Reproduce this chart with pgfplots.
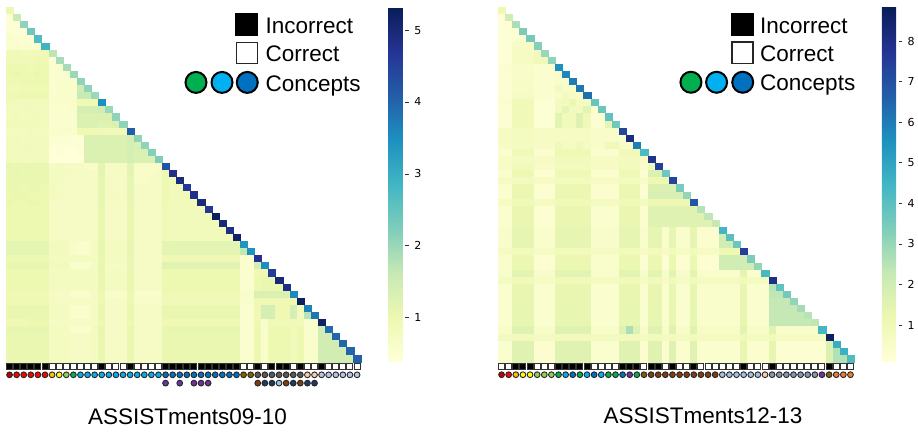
\documentclass[border=0pt]{standalone}
\usepackage{pgfplots}
\pgfplotsset{compat=1.18}
\usepackage{fontspec}
\setmainfont{Liberation Sans}
\newfontfamily\dvs{DejaVu Sans}
\definecolor{cDR}{HTML}{C00000}\definecolor{cR}{HTML}{FF0000}\definecolor{cO}{HTML}{FFC000}\definecolor{cY}{HTML}{FFFF00}
\definecolor{cLG}{HTML}{92D050}\definecolor{cG}{HTML}{00B050}\definecolor{cLB}{HTML}{00B0F0}\definecolor{cB}{HTML}{0070C0}
\definecolor{cP}{HTML}{7030A0}\definecolor{cOl}{HTML}{7F6000}\definecolor{cGr}{HTML}{595959}\definecolor{cPe}{HTML}{F8CBAD}
\definecolor{cIce}{HTML}{B4C7E7}\definecolor{cBr}{HTML}{843C0C}\definecolor{cNv}{HTML}{1F3864}\definecolor{cSk}{HTML}{9DC3E6}
\definecolor{cSl}{HTML}{8497B0}\definecolor{cOr}{HTML}{ED7D31}
\tikzset{lab/.style={anchor=base west,inner sep=0pt,font=\fontsize{22.5}{26}\selectfont}}
\pgfplotsset{colormap={ygb}{rgb255=(255,255,217) rgb255=(237,248,177) rgb255=(199,233,180) rgb255=(127,205,187) rgb255=(65,182,196) rgb255=(29,145,192) rgb255=(34,94,168) rgb255=(37,52,148) rgb255=(8,29,88)},
 hm/.style={scatter,only marks,mark=square*,mark size=3.56pt,point meta=explicit,scatter/use mapped color={draw=mapped color,fill=mapped color},line width=0.05pt},
 sq/.style={only marks,mark=square*,mark size=3pt,line width=1pt,draw=black!80},
 cc/.style={only marks,mark=*,mark size=2.9pt,line width=0.9pt,draw=black!85},
 lgsq/.style={only marks,mark=square*,mark size=11pt,line width=0.6pt},
 lgc/.style={only marks,mark=*,mark size=10.5pt,line width=2pt,draw=black},
 hmax/.style={anchor=south west,scale only axis,xmin=-0.5,xmax=49.5,ymin=-0.5,ymax=49.5,y dir=reverse,axis lines=none,clip=false,colormap name=ygb,colorbar,
   colorbar style={at={(parent axis.south east)},anchor=south west,xshift=19.4pt,width=16.7pt,y dir=normal,tickwidth=3.5pt,ytick pos=right,yticklabel pos=right,tick align=outside,major tick style={draw=black!80,line width=0.6pt},
   axis line style={draw=none},yticklabel style={font=\dvs\fontsize{11}{12}\selectfont,xshift=2pt},/pgf/number format/assume math mode=true}}}
\newcommand\hmrow[2]{\addplot[hm] table[header=false,row sep=crcr,x expr=\coordindex,y expr=#1,meta index=0]{#2};}
\begin{document}
\begin{tikzpicture}[x=1pt,y=1pt]
\useasboundingbox (0,0) rectangle (918,431);
\begin{axis}[hmax,at={(6pt,69.3pt)},width=354.6pt,height=354.6pt,point meta min=0.387,point meta max=5.32,colorbar style={height=354.6pt,ytick={1,2,3,4,5}}]
\hmrow{0}{1.0\\}
\hmrow{1}{0.45\\1.6\\}
\hmrow{2}{0.45\\0.45\\2.1\\}
\hmrow{3}{0.5\\0.45\\0.45\\2.4\\}
\hmrow{4}{0.6\\0.55\\0.5\\0.5\\2.7\\}
\hmrow{5}{0.55\\0.6\\0.55\\0.55\\0.55\\2.9\\}
\hmrow{6}{0.9\\0.9\\0.85\\0.85\\0.9\\0.9\\1.7\\}
\hmrow{7}{0.9\\0.9\\0.9\\0.9\\0.95\\0.95\\0.5\\1.9\\}
\hmrow{8}{1.0\\1.0\\1.0\\0.95\\1.0\\1.0\\0.55\\0.55\\1.9\\}
\hmrow{9}{1.0\\1.05\\1.0\\1.0\\1.05\\1.0\\0.55\\0.55\\0.6\\2.0\\}
\hmrow{10}{0.95\\0.95\\1.0\\1.0\\1.0\\1.0\\0.55\\0.6\\0.6\\0.6\\2.1\\}
\hmrow{11}{0.9\\0.9\\0.95\\0.95\\0.95\\0.95\\0.55\\0.6\\0.6\\0.6\\1.5\\2.1\\}
\hmrow{12}{0.95\\0.95\\1.0\\1.0\\1.0\\1.0\\0.55\\0.6\\0.6\\0.6\\1.6\\1.6\\2.0\\}
\hmrow{13}{0.85\\0.85\\0.8\\0.85\\0.85\\0.85\\0.6\\0.6\\0.6\\0.65\\0.95\\0.95\\0.95\\3.5\\}
\hmrow{14}{0.8\\0.8\\0.85\\0.85\\0.8\\0.8\\0.55\\0.55\\0.55\\0.6\\1.4\\1.4\\1.4\\1.5\\2.0\\}
\hmrow{15}{0.8\\0.85\\0.8\\0.8\\0.85\\0.8\\0.55\\0.55\\0.55\\0.55\\1.3\\1.3\\1.3\\1.3\\1.3\\2.1\\}
\hmrow{16}{0.85\\0.85\\0.85\\0.85\\0.85\\0.8\\0.55\\0.55\\0.55\\0.55\\1.3\\1.3\\1.3\\1.2\\1.25\\1.3\\2.1\\}
\hmrow{17}{0.75\\0.75\\0.75\\0.8\\0.75\\0.75\\0.6\\0.6\\0.6\\0.6\\0.95\\0.95\\0.95\\0.9\\0.9\\0.85\\0.85\\4.1\\}
\hmrow{18}{0.8\\0.85\\0.8\\0.8\\0.8\\0.8\\0.5\\0.5\\0.5\\0.45\\0.45\\1.3\\1.3\\1.3\\1.3\\1.3\\1.3\\1.4\\2.1\\}
\hmrow{19}{0.85\\0.8\\0.8\\0.85\\0.8\\0.8\\0.45\\0.45\\0.45\\0.45\\0.45\\1.3\\1.3\\1.3\\1.3\\1.3\\1.3\\1.4\\1.35\\2.1\\}
\hmrow{20}{0.8\\0.8\\0.85\\0.8\\0.8\\0.85\\0.4\\0.45\\0.4\\0.4\\0.45\\1.3\\1.3\\1.3\\1.3\\1.3\\1.3\\1.4\\1.3\\1.35\\2.2\\}
\hmrow{21}{0.85\\0.8\\0.8\\0.8\\0.85\\0.8\\0.4\\0.4\\0.4\\0.4\\0.4\\1.3\\1.3\\1.3\\1.3\\1.3\\1.3\\1.4\\1.3\\1.3\\1.3\\2.25\\}
\hmrow{22}{1.1\\1.05\\1.05\\1.1\\1.05\\1.05\\0.7\\0.75\\0.7\\0.7\\0.7\\0.65\\0.65\\1.15\\0.7\\0.7\\0.7\\1.15\\0.65\\0.65\\0.65\\0.65\\4.25\\}
\hmrow{23}{1.05\\1.1\\1.05\\1.05\\1.05\\1.05\\0.75\\0.75\\0.75\\0.7\\0.7\\0.7\\0.7\\1.15\\0.7\\0.7\\0.7\\1.15\\0.65\\0.65\\0.65\\0.7\\1.0\\4.8\\}
\hmrow{24}{1.05\\1.05\\1.05\\1.05\\1.05\\1.05\\0.75\\0.75\\0.7\\0.7\\0.7\\0.7\\0.7\\1.1\\0.75\\0.7\\0.7\\1.1\\0.65\\0.65\\0.7\\0.7\\1.0\\0.9\\4.95\\}
\hmrow{25}{1.05\\1.05\\1.0\\1.05\\1.05\\1.0\\0.75\\0.7\\0.7\\0.7\\0.7\\0.7\\0.7\\1.1\\0.75\\0.7\\0.7\\1.1\\0.7\\0.7\\0.7\\0.7\\1.0\\0.85\\0.85\\4.65\\}
\hmrow{26}{1.0\\1.05\\1.05\\1.0\\1.0\\1.0\\0.75\\0.75\\0.7\\0.7\\0.7\\0.7\\0.7\\1.1\\0.75\\0.75\\0.7\\1.1\\0.7\\0.7\\0.7\\0.7\\0.95\\0.85\\0.85\\0.85\\4.8\\}
\hmrow{27}{1.05\\1.0\\1.0\\1.05\\1.05\\1.0\\0.7\\0.7\\0.7\\0.7\\0.7\\0.7\\0.7\\1.1\\0.7\\0.7\\0.7\\1.1\\0.7\\0.7\\0.7\\0.7\\0.95\\0.85\\0.85\\0.85\\0.85\\4.95\\}
\hmrow{28}{1.0\\1.0\\1.0\\1.0\\1.0\\1.0\\0.7\\0.7\\0.7\\0.7\\0.7\\0.7\\0.7\\1.05\\0.7\\0.7\\0.7\\1.05\\0.7\\0.7\\0.7\\0.7\\0.9\\0.85\\0.85\\0.85\\0.85\\0.85\\4.65\\}
\hmrow{29}{1.0\\1.0\\1.0\\1.0\\1.0\\1.0\\0.7\\0.7\\0.7\\0.7\\0.7\\0.7\\0.7\\1.05\\0.7\\0.7\\0.7\\1.05\\0.7\\0.7\\0.7\\0.7\\0.9\\0.85\\0.85\\0.85\\0.85\\0.85\\0.85\\5.25\\}
\hmrow{30}{1.0\\1.0\\1.0\\1.0\\1.0\\1.0\\0.7\\0.7\\0.7\\0.7\\0.7\\0.7\\0.7\\1.05\\0.7\\0.7\\0.7\\1.05\\0.7\\0.7\\0.7\\0.7\\0.9\\0.85\\0.85\\0.85\\0.85\\0.85\\0.85\\0.85\\5.0\\}
\hmrow{31}{1.0\\1.0\\1.0\\1.0\\1.0\\1.0\\0.7\\0.7\\0.7\\0.7\\0.7\\0.7\\0.7\\1.05\\0.7\\0.7\\0.7\\1.05\\0.7\\0.7\\0.7\\0.7\\0.9\\0.85\\0.85\\0.85\\0.85\\0.85\\0.85\\0.85\\0.85\\4.85\\}
\hmrow{32}{1.0\\1.0\\1.0\\1.0\\1.0\\1.0\\0.7\\0.7\\0.7\\0.7\\0.7\\0.7\\0.7\\1.05\\0.7\\0.7\\0.7\\1.05\\0.7\\0.7\\0.7\\0.7\\0.9\\0.85\\0.85\\0.85\\0.85\\0.85\\0.85\\0.85\\0.85\\0.85\\5.15\\}
\hmrow{33}{1.15\\1.15\\1.15\\1.15\\1.15\\1.15\\0.8\\0.8\\0.8\\0.65\\0.6\\0.6\\0.75\\1.1\\0.75\\0.75\\0.75\\1.1\\0.7\\0.7\\0.7\\0.7\\1.15\\1.15\\1.15\\1.15\\1.15\\1.15\\1.15\\1.15\\1.15\\1.15\\1.15\\3.4\\}
\hmrow{34}{1.15\\1.15\\1.15\\1.15\\1.15\\1.15\\0.8\\0.8\\0.8\\0.65\\0.6\\0.6\\0.75\\1.1\\0.75\\0.75\\0.75\\1.1\\0.7\\0.7\\0.7\\0.7\\1.15\\1.15\\1.15\\1.15\\1.15\\1.15\\1.15\\1.15\\1.15\\1.15\\1.15\\1.65\\3.45\\}
\hmrow{35}{1.0\\1.0\\1.0\\1.0\\1.0\\1.0\\0.75\\0.75\\0.75\\0.75\\0.75\\0.75\\0.75\\1.05\\0.75\\0.75\\0.75\\1.05\\0.7\\0.7\\0.7\\0.7\\0.95\\0.95\\0.95\\0.95\\0.95\\0.95\\0.95\\0.95\\0.95\\0.95\\0.95\\0.55\\0.55\\4.75\\}
\hmrow{36}{1.1\\1.1\\1.1\\1.1\\1.1\\1.1\\0.8\\0.8\\0.8\\0.6\\0.6\\0.6\\0.7\\1.1\\0.7\\0.7\\0.7\\1.1\\0.7\\0.7\\0.7\\0.7\\1.2\\1.2\\1.2\\1.2\\1.2\\1.2\\1.2\\1.2\\1.2\\1.2\\1.2\\0.55\\0.55\\1.4\\3.5\\}
\hmrow{37}{1.0\\1.0\\1.0\\1.0\\1.0\\1.0\\0.75\\0.75\\0.75\\0.75\\0.75\\0.75\\0.75\\1.05\\0.75\\0.75\\0.75\\1.05\\0.7\\0.7\\0.7\\0.7\\1.0\\1.0\\1.0\\1.0\\1.0\\1.0\\1.0\\1.0\\1.0\\1.0\\1.0\\0.55\\0.55\\0.95\\0.95\\4.6\\}
\hmrow{38}{1.0\\1.0\\1.0\\1.0\\1.0\\1.0\\0.75\\0.75\\0.75\\0.75\\0.75\\0.75\\0.75\\1.05\\0.75\\0.75\\0.75\\1.05\\0.7\\0.7\\0.7\\0.7\\1.0\\1.0\\1.0\\1.0\\1.0\\1.0\\1.0\\1.0\\1.0\\1.0\\1.0\\0.55\\0.55\\1.0\\1.05\\1.05\\5.0\\}
\hmrow{39}{1.0\\1.0\\1.0\\1.0\\1.0\\1.0\\0.75\\0.75\\0.75\\0.75\\0.75\\0.75\\0.75\\1.05\\0.75\\0.75\\0.75\\1.05\\0.7\\0.7\\0.7\\0.7\\1.0\\1.0\\1.0\\1.0\\1.0\\1.0\\1.0\\1.0\\1.0\\1.0\\1.0\\0.55\\0.55\\1.0\\1.05\\1.05\\1.05\\4.85\\}
\hmrow{40}{0.95\\0.95\\0.95\\0.95\\0.95\\0.95\\0.7\\0.7\\0.7\\0.6\\0.6\\0.6\\0.7\\1.0\\0.65\\0.65\\0.65\\1.0\\0.6\\0.6\\0.6\\0.6\\0.95\\0.95\\0.95\\0.95\\0.95\\0.95\\0.95\\0.95\\0.95\\0.95\\0.95\\0.6\\0.6\\1.3\\1.3\\1.3\\1.3\\1.3\\3.55\\}
\hmrow{41}{0.95\\0.95\\0.95\\0.95\\0.95\\0.95\\0.75\\0.7\\0.7\\0.7\\0.7\\0.7\\0.7\\1.0\\0.7\\0.7\\0.7\\1.0\\0.65\\0.65\\0.65\\0.65\\0.9\\0.9\\0.9\\0.9\\0.9\\0.9\\0.9\\0.9\\0.9\\0.9\\0.9\\0.6\\0.6\\0.95\\0.95\\0.95\\0.95\\0.95\\0.95\\5.25\\}
\hmrow{42}{1.05\\1.05\\1.05\\1.05\\1.05\\1.05\\0.75\\0.75\\0.75\\0.6\\0.6\\0.6\\0.75\\1.05\\0.7\\0.7\\0.7\\1.05\\0.7\\0.7\\0.7\\0.7\\1.05\\1.05\\1.05\\1.05\\1.05\\1.05\\1.05\\1.05\\1.05\\1.05\\1.05\\0.55\\0.55\\0.95\\1.4\\1.4\\0.95\\0.95\\1.4\\0.8\\3.65\\}
\hmrow{43}{1.05\\1.05\\1.05\\1.05\\1.05\\1.05\\0.75\\0.75\\0.75\\0.6\\0.6\\0.6\\0.75\\1.05\\0.7\\0.7\\0.7\\1.05\\0.7\\0.7\\0.7\\0.7\\1.05\\1.05\\1.05\\1.05\\1.05\\1.05\\1.05\\1.05\\1.05\\1.05\\1.05\\0.55\\0.55\\0.95\\1.4\\1.4\\0.95\\0.95\\1.4\\0.8\\1.75\\3.8\\}
\hmrow{44}{0.95\\0.95\\0.95\\1.0\\1.0\\1.0\\0.7\\0.7\\0.7\\0.7\\0.7\\0.7\\0.7\\1.0\\0.7\\0.7\\0.7\\1.0\\0.7\\0.7\\0.7\\0.7\\0.95\\0.95\\0.95\\0.95\\0.95\\0.95\\0.95\\0.95\\0.95\\0.95\\0.95\\0.55\\0.55\\0.95\\0.6\\0.9\\0.9\\0.9\\0.9\\0.85\\0.6\\0.6\\5.2\\}
\hmrow{45}{1.1\\1.1\\1.1\\1.1\\1.1\\1.1\\0.75\\0.75\\0.75\\0.6\\0.6\\0.6\\0.75\\1.1\\0.7\\0.7\\0.7\\1.1\\0.7\\0.7\\0.7\\0.7\\1.1\\1.1\\1.1\\1.1\\1.1\\1.1\\1.1\\1.1\\1.1\\1.1\\1.1\\0.55\\0.55\\1.0\\0.6\\1.0\\1.0\\1.0\\0.85\\1.0\\0.6\\0.6\\1.45\\3.9\\}
\hmrow{46}{1.05\\1.05\\1.05\\1.05\\1.05\\1.05\\0.75\\0.75\\0.75\\0.7\\0.7\\0.7\\0.75\\1.05\\0.7\\0.7\\0.7\\1.05\\0.7\\0.7\\0.7\\0.7\\1.05\\1.05\\1.05\\1.05\\1.05\\1.05\\1.05\\1.05\\1.05\\1.05\\1.05\\0.55\\0.55\\1.0\\0.6\\1.0\\1.0\\1.0\\0.85\\1.0\\0.6\\0.6\\1.45\\1.45\\4.0\\}
\hmrow{47}{1.05\\1.05\\1.05\\1.05\\1.05\\1.05\\0.75\\0.75\\0.75\\0.7\\0.7\\0.7\\0.75\\1.05\\0.7\\0.7\\0.7\\1.05\\0.7\\0.7\\0.7\\0.7\\1.05\\1.05\\1.05\\1.05\\1.05\\1.05\\1.05\\1.05\\1.05\\1.05\\1.05\\0.55\\0.55\\1.0\\0.6\\1.0\\1.0\\1.0\\0.85\\1.0\\0.6\\0.6\\1.45\\1.45\\1.45\\4.0\\}
\hmrow{48}{1.05\\1.05\\1.05\\1.05\\1.05\\1.05\\0.75\\0.75\\0.75\\0.7\\0.7\\0.7\\0.75\\1.05\\0.7\\0.7\\0.7\\1.05\\0.7\\0.7\\0.7\\0.7\\1.05\\1.05\\1.05\\1.05\\1.05\\1.05\\1.05\\1.05\\1.05\\1.05\\1.05\\0.55\\0.55\\1.0\\0.6\\1.0\\1.0\\1.0\\0.85\\1.0\\0.6\\0.6\\1.45\\1.45\\1.45\\1.45\\4.0\\}
\hmrow{49}{1.05\\1.05\\1.05\\1.05\\1.05\\1.05\\0.75\\0.75\\0.75\\0.7\\0.7\\0.7\\0.75\\1.05\\0.7\\0.7\\0.7\\1.05\\0.7\\0.7\\0.7\\0.7\\1.05\\1.05\\1.05\\1.05\\1.05\\1.05\\1.05\\1.05\\1.05\\1.05\\1.05\\0.55\\0.55\\1.0\\0.6\\1.0\\1.0\\1.0\\0.85\\1.0\\0.6\\0.6\\1.45\\1.45\\1.45\\1.45\\1.45\\4.05\\}
\addplot[sq,fill=black] coordinates {(0,50.19)(1,50.19)(2,50.19)(3,50.19)(4,50.19)(5,50.19)(13,50.19)(17,50.19)(22,50.19)(23,50.19)(24,50.19)(25,50.19)(26,50.19)(27,50.19)(28,50.19)(29,50.19)(30,50.19)(31,50.19)(32,50.19)(35,50.19)(37,50.19)(38,50.19)(39,50.19)(41,50.19)(44,50.19)};
\addplot[sq,fill=white] coordinates {(6,50.19)(7,50.19)(8,50.19)(9,50.19)(10,50.19)(11,50.19)(12,50.19)(14,50.19)(15,50.19)(16,50.19)(18,50.19)(19,50.19)(20,50.19)(21,50.19)(33,50.19)(34,50.19)(36,50.19)(40,50.19)(42,50.19)(43,50.19)(45,50.19)(46,50.19)(47,50.19)(48,50.19)(49,50.19)};
\addplot[cc,fill=cDR] coordinates {(0,51.35)};
\addplot[cc,fill=cR] coordinates {(1,51.35)(2,51.35)(3,51.35)(4,51.35)(5,51.35)};
\addplot[cc,fill=cO] coordinates {(6,51.35)};
\addplot[cc,fill=cY] coordinates {(7,51.35)};
\addplot[cc,fill=cLG] coordinates {(8,51.35)};
\addplot[cc,fill=cG] coordinates {(9,51.35)};
\addplot[cc,fill=cLB] coordinates {(10,51.35)(11,51.35)(12,51.35)(13,51.35)(14,51.35)(15,51.35)(16,51.35)(17,51.35)(18,51.35)(19,51.35)(20,51.35)(21,51.35)};
\addplot[cc,fill=cB] coordinates {(22,51.35)(23,51.35)(24,51.35)(25,51.35)(26,51.35)(27,51.35)(28,51.35)(29,51.35)(30,51.35)(31,51.35)(32,51.35)};
\addplot[cc,fill=cOl] coordinates {(33,51.35)(34,51.35)};
\addplot[cc,fill=cGr] coordinates {(35,51.35)(36,51.35)(37,51.35)(38,51.35)(39,51.35)(40,51.35)(41,51.35)};
\addplot[cc,fill=cPe] coordinates {(42,51.35)(43,51.35)};
\addplot[cc,fill=cIce] coordinates {(44,51.35)(45,51.35)(46,51.35)(47,51.35)(48,51.35)(49,51.35)};
\addplot[cc,fill=cP] coordinates {(22,52.52)(24,52.52)(26,52.52)(27,52.52)(28,52.52)};
\addplot[cc,fill=cBr] coordinates {(35,52.52)(39,52.52)(41,52.52)};
\addplot[cc,fill=cNv] coordinates {(36,52.52)(37,52.52)(40,52.52)(42,52.52)(43,52.52)};
\addplot[cc,fill=cSk] coordinates {(38,52.52)};
\addplot[lgsq,fill=black,draw=black] coordinates {(33.43,1.98)};
\addplot[lgsq,fill=white,draw=black!85,line width=1.5pt,mark size=10.6pt] coordinates {(33.48,5.96)};
\addplot[lgc,fill=cG] coordinates {(26.29,10.12)};
\addplot[lgc,fill=cLB] coordinates {(29.96,10.12)};
\addplot[lgc,fill=cB] coordinates {(33.52,10.12)};
\node[lab] at (axis cs:36.09,3.17) {Incorrect};
\node[lab] at (axis cs:36.09,7.18) {Correct};
\node[lab] at (axis cs:36.09,11.34) {Concepts};
\node[anchor=base,inner sep=0pt,font=\fontsize{22.5}{26}\selectfont] at (axis cs:25.09,58.3) {ASSISTments09-10};
\end{axis}
\begin{axis}[hmax,at={(498pt,69pt)},width=356pt,height=355pt,point meta min=0.09,point meta max=8.84,colorbar style={height=355pt,ytick={1,2,3,4,5,6,7,8}}]
\hmrow{0}{1.1\\}
\hmrow{1}{0.2\\1.95\\}
\hmrow{2}{0.2\\0.2\\2.7\\}
\hmrow{3}{0.25\\0.25\\0.25\\3.4\\}
\hmrow{4}{0.2\\0.2\\0.25\\0.35\\3.55\\}
\hmrow{5}{0.2\\0.2\\0.6\\0.6\\0.6\\3.3\\}
\hmrow{6}{0.2\\0.2\\0.7\\0.7\\0.7\\0.9\\3.0\\}
\hmrow{7}{0.2\\0.2\\0.7\\0.7\\0.7\\1.0\\1.0\\3.1\\}
\hmrow{8}{0.3\\0.35\\0.55\\0.55\\0.55\\0.4\\0.4\\0.4\\5.55\\}
\hmrow{9}{0.3\\0.3\\0.55\\0.55\\0.55\\0.35\\0.35\\0.35\\0.5\\5.75\\}
\hmrow{10}{0.3\\0.3\\0.6\\0.6\\0.6\\0.4\\0.4\\0.4\\0.45\\0.45\\6.0\\}
\hmrow{11}{0.3\\0.3\\0.6\\0.6\\0.6\\0.4\\0.4\\0.4\\0.8\\0.55\\0.55\\6.1\\}
\hmrow{12}{0.3\\0.3\\0.65\\0.65\\0.65\\0.4\\0.4\\0.4\\0.5\\0.8\\0.6\\0.6\\6.3\\}
\hmrow{13}{0.35\\0.35\\1.0\\1.0\\1.0\\0.25\\0.25\\0.25\\0.85\\0.85\\1.2\\0.75\\0.75\\3.8\\}
\hmrow{14}{0.3\\0.3\\1.0\\1.0\\1.0\\0.25\\0.25\\0.25\\0.8\\1.4\\0.8\\0.8\\1.5\\0.4\\3.7\\}
\hmrow{15}{0.3\\0.3\\1.0\\1.0\\1.0\\0.25\\0.25\\0.25\\1.5\\0.9\\0.9\\1.6\\1.0\\0.3\\0.3\\3.9\\}
\hmrow{16}{0.3\\0.3\\1.0\\1.0\\1.0\\0.25\\0.25\\0.25\\1.5\\0.9\\0.9\\1.6\\1.0\\0.3\\0.3\\1.4\\3.6\\}
\hmrow{17}{0.7\\0.7\\0.75\\0.75\\0.75\\0.65\\0.65\\0.65\\0.7\\0.7\\0.7\\0.7\\0.7\\0.55\\0.55\\0.55\\0.55\\7.25\\}
\hmrow{18}{0.7\\0.7\\0.75\\0.75\\0.75\\0.7\\0.7\\0.7\\0.65\\0.65\\0.65\\0.65\\0.65\\0.55\\0.55\\0.55\\0.55\\0.4\\8.1\\}
\hmrow{19}{0.6\\0.6\\0.75\\0.75\\0.75\\0.6\\0.6\\0.6\\1.0\\0.75\\0.75\\0.95\\0.7\\0.55\\0.55\\1.0\\1.0\\0.55\\0.55\\5.95\\}
\hmrow{20}{0.4\\0.4\\1.0\\1.0\\1.0\\0.35\\0.35\\0.35\\1.1\\1.1\\1.1\\1.1\\1.1\\0.4\\0.4\\0.4\\0.4\\1.0\\1.0\\1.0\\4.3\\}
\hmrow{21}{0.6\\0.6\\0.75\\0.75\\0.75\\0.65\\0.65\\0.65\\0.9\\0.9\\0.9\\0.9\\0.9\\0.7\\0.7\\0.7\\0.7\\0.85\\0.85\\0.85\\0.6\\7.85\\}
\hmrow{22}{0.6\\0.6\\0.9\\0.9\\0.9\\0.6\\0.6\\0.6\\0.85\\0.85\\0.85\\0.85\\0.85\\0.7\\0.7\\0.7\\0.7\\0.85\\0.85\\0.85\\0.5\\1.0\\7.5\\}
\hmrow{23}{0.4\\0.4\\1.15\\1.15\\1.15\\0.3\\0.3\\0.3\\1.05\\1.05\\1.05\\1.05\\1.05\\0.35\\0.35\\0.35\\0.35\\1.05\\1.05\\1.05\\0.3\\1.7\\1.7\\3.65\\}
\hmrow{24}{0.7\\0.7\\0.8\\0.8\\0.8\\0.7\\0.7\\0.7\\0.85\\0.85\\0.85\\0.85\\0.85\\0.7\\0.7\\0.7\\0.7\\0.85\\0.85\\0.85\\0.6\\1.15\\1.15\\1.15\\7.3\\}
\hmrow{25}{0.4\\0.4\\1.2\\1.2\\1.2\\0.3\\0.3\\0.3\\1.2\\1.2\\1.2\\1.2\\1.2\\0.35\\0.35\\0.35\\0.35\\1.2\\1.2\\1.2\\0.3\\1.7\\1.7\\1.7\\1.7\\3.45\\}
\hmrow{26}{0.4\\0.4\\1.2\\1.2\\1.2\\0.3\\0.3\\0.3\\1.2\\1.2\\1.2\\1.2\\1.2\\0.35\\0.35\\0.35\\0.35\\1.2\\1.2\\1.2\\0.3\\1.8\\1.8\\1.8\\1.8\\1.8\\3.05\\}
\hmrow{27}{0.7\\0.7\\1.0\\1.0\\1.0\\0.75\\0.75\\0.75\\1.0\\1.0\\1.0\\1.0\\1.0\\0.75\\0.75\\0.75\\0.75\\1.0\\1.0\\1.0\\0.8\\1.15\\1.15\\1.15\\1.15\\1.15\\1.15\\6.9\\}
\hmrow{28}{0.4\\0.4\\1.25\\1.25\\1.25\\0.3\\0.3\\0.3\\1.25\\1.25\\1.25\\1.25\\1.25\\0.4\\0.4\\0.4\\0.4\\1.25\\1.25\\1.25\\0.35\\1.6\\1.6\\1.6\\1.6\\1.6\\1.6\\1.6\\2.55\\}
\hmrow{29}{0.4\\0.4\\1.25\\1.25\\1.25\\0.3\\0.3\\0.3\\1.25\\1.25\\1.25\\1.25\\1.25\\0.4\\0.4\\0.4\\0.4\\1.25\\1.25\\1.25\\0.35\\1.6\\1.6\\1.6\\1.6\\1.6\\1.6\\1.6\\1.6\\2.4\\}
\hmrow{30}{0.4\\0.4\\1.25\\1.25\\1.25\\0.3\\0.3\\0.3\\1.25\\1.25\\1.25\\1.25\\1.25\\0.4\\0.4\\0.4\\0.4\\1.25\\1.25\\1.25\\0.35\\1.6\\1.6\\1.6\\1.6\\1.6\\1.6\\1.6\\1.6\\1.6\\2.3\\}
\hmrow{31}{0.5\\0.5\\1.4\\1.4\\1.4\\0.45\\0.45\\0.45\\1.4\\1.4\\1.4\\1.4\\1.4\\0.5\\0.5\\0.5\\0.5\\1.4\\1.4\\1.4\\0.45\\1.4\\1.4\\0.45\\1.4\\0.45\\0.45\\1.4\\0.35\\0.35\\0.35\\4.45\\}
\hmrow{32}{0.5\\0.5\\1.4\\1.4\\1.4\\0.45\\0.45\\0.45\\1.4\\1.4\\1.4\\1.4\\1.4\\0.5\\0.5\\0.5\\0.5\\1.4\\1.4\\1.4\\0.45\\1.4\\1.4\\0.45\\1.4\\0.45\\0.45\\1.4\\0.35\\0.35\\0.35\\2.0\\4.05\\}
\hmrow{33}{0.5\\0.5\\1.4\\1.4\\1.4\\0.45\\0.45\\0.45\\1.4\\1.4\\1.4\\1.4\\1.4\\0.5\\0.5\\0.5\\0.5\\1.4\\1.4\\1.4\\0.45\\1.4\\1.4\\0.45\\1.4\\0.45\\0.45\\1.4\\0.35\\0.35\\0.35\\2.0\\2.0\\3.7\\}
\hmrow{34}{0.7\\0.7\\0.9\\0.9\\0.9\\0.7\\0.7\\0.7\\0.9\\0.9\\0.9\\0.9\\0.9\\0.7\\0.7\\0.7\\0.7\\0.9\\0.9\\0.9\\0.7\\0.9\\0.9\\0.7\\0.9\\0.7\\0.7\\0.9\\0.7\\0.7\\0.7\\1.15\\1.15\\1.15\\7.5\\}
\hmrow{35}{0.45\\0.45\\1.2\\1.2\\1.2\\0.3\\0.3\\0.3\\1.2\\1.2\\1.2\\1.2\\1.2\\0.45\\0.45\\0.45\\0.45\\1.2\\1.2\\1.2\\0.3\\1.2\\1.2\\0.3\\1.2\\0.3\\0.3\\1.2\\0.3\\0.3\\0.3\\2.0\\2.0\\2.0\\2.0\\3.4\\}
\hmrow{36}{0.45\\0.45\\1.2\\1.2\\1.2\\0.3\\0.3\\0.3\\1.2\\1.2\\1.2\\1.2\\1.2\\0.45\\0.45\\0.45\\0.45\\1.2\\1.2\\1.2\\0.3\\1.2\\1.2\\0.3\\1.2\\0.3\\0.3\\1.2\\0.3\\0.3\\0.3\\2.0\\2.0\\2.0\\2.0\\2.0\\3.05\\}
\hmrow{37}{0.5\\0.5\\1.5\\1.5\\1.5\\0.5\\0.5\\0.5\\1.5\\1.5\\1.5\\1.5\\1.5\\0.5\\0.5\\0.5\\0.5\\1.5\\1.5\\1.5\\0.5\\1.5\\1.5\\0.5\\1.5\\0.5\\0.5\\1.5\\0.45\\0.45\\0.45\\0.45\\0.45\\0.45\\1.4\\0.4\\0.4\\4.35\\}
\hmrow{38}{0.75\\0.75\\0.95\\0.95\\0.95\\0.7\\0.7\\0.7\\0.95\\0.95\\0.95\\0.95\\0.95\\0.75\\0.75\\0.75\\0.75\\0.95\\0.95\\0.95\\0.7\\0.95\\0.95\\0.7\\0.95\\0.7\\0.7\\0.95\\0.75\\0.75\\0.75\\0.75\\0.75\\0.75\\1.0\\0.75\\0.75\\0.75\\8.0\\}
\hmrow{39}{0.4\\0.4\\1.3\\1.3\\1.3\\0.4\\0.4\\0.4\\1.3\\1.3\\1.3\\1.3\\1.3\\0.4\\0.4\\0.4\\0.4\\1.3\\1.3\\1.3\\0.4\\1.3\\1.3\\0.4\\1.3\\0.4\\0.4\\1.3\\0.45\\0.45\\0.45\\0.45\\0.45\\0.45\\1.3\\0.4\\0.4\\0.4\\2.5\\3.9\\}
\hmrow{40}{0.4\\0.4\\1.3\\1.3\\1.3\\0.4\\0.4\\0.4\\1.3\\1.3\\1.3\\1.3\\1.3\\0.4\\0.4\\0.4\\0.4\\1.3\\1.3\\1.3\\0.4\\1.3\\1.3\\0.4\\1.3\\0.4\\0.4\\1.3\\0.45\\0.45\\0.45\\0.45\\0.45\\0.45\\1.3\\0.4\\0.4\\0.4\\2.4\\2.4\\3.55\\}
\hmrow{41}{0.4\\0.4\\1.3\\1.3\\1.3\\0.4\\0.4\\0.4\\1.3\\1.3\\1.3\\1.3\\1.3\\0.4\\0.4\\0.4\\0.4\\1.3\\1.3\\1.3\\0.4\\1.3\\1.3\\0.4\\1.3\\0.4\\0.4\\1.3\\0.45\\0.45\\0.45\\0.45\\0.45\\0.45\\1.3\\0.4\\0.4\\0.4\\2.3\\2.3\\2.3\\3.1\\}
\hmrow{42}{0.4\\0.4\\1.3\\1.3\\1.3\\0.4\\0.4\\0.4\\1.3\\1.3\\1.3\\1.3\\1.3\\0.4\\0.4\\0.4\\0.4\\1.3\\1.3\\1.3\\0.4\\1.3\\1.3\\0.4\\1.3\\0.4\\0.4\\1.3\\0.45\\0.45\\0.45\\0.45\\0.45\\0.45\\1.3\\0.4\\0.4\\0.4\\2.3\\2.3\\2.3\\2.3\\2.8\\}
\hmrow{43}{0.4\\0.4\\1.35\\1.35\\1.35\\0.4\\0.4\\0.4\\1.35\\1.35\\1.35\\1.35\\1.35\\0.4\\0.4\\0.4\\0.4\\1.35\\1.35\\1.35\\0.4\\1.35\\1.35\\0.4\\1.35\\0.4\\0.4\\1.35\\0.45\\0.45\\0.45\\0.45\\0.45\\0.45\\1.3\\0.4\\0.4\\0.4\\2.3\\2.3\\2.3\\2.3\\2.3\\2.5\\}
\hmrow{44}{0.4\\0.4\\1.35\\1.35\\1.35\\0.4\\0.4\\0.4\\1.35\\1.35\\1.35\\1.35\\1.35\\0.4\\0.4\\0.4\\0.4\\1.35\\1.35\\1.35\\0.4\\1.35\\1.35\\0.4\\1.35\\0.4\\0.4\\1.35\\0.45\\0.45\\0.45\\0.45\\0.45\\0.45\\1.3\\0.4\\0.4\\0.4\\2.3\\2.3\\2.3\\2.3\\2.3\\2.3\\2.4\\}
\hmrow{45}{0.55\\0.55\\1.6\\1.6\\1.6\\0.55\\0.55\\0.55\\1.6\\1.6\\1.6\\1.6\\1.6\\0.55\\0.55\\0.55\\0.55\\1.6\\2.7\\1.6\\0.55\\1.6\\1.6\\0.55\\1.6\\0.55\\0.55\\1.6\\0.6\\0.6\\0.6\\0.6\\0.6\\0.6\\1.5\\0.6\\0.6\\0.6\\1.5\\0.5\\0.5\\0.5\\0.5\\0.5\\0.5\\4.45\\}
\hmrow{46}{0.8\\0.8\\0.9\\0.9\\0.9\\0.75\\0.75\\0.75\\0.9\\0.9\\0.9\\0.9\\0.9\\0.8\\0.8\\0.8\\0.8\\0.9\\0.9\\0.9\\0.75\\0.9\\0.9\\0.75\\0.9\\0.75\\0.75\\0.9\\0.75\\0.75\\0.75\\0.75\\0.75\\0.75\\0.95\\0.75\\0.75\\0.75\\1.0\\0.7\\0.7\\0.7\\0.7\\0.7\\0.7\\0.7\\8.7\\}
\hmrow{47}{0.4\\0.4\\1.6\\1.6\\1.6\\0.35\\0.35\\0.35\\1.6\\1.6\\1.6\\1.6\\1.6\\0.4\\0.4\\0.4\\0.4\\1.6\\1.6\\1.6\\0.35\\1.6\\1.6\\0.35\\1.6\\0.35\\0.35\\1.6\\0.4\\0.4\\0.4\\0.4\\0.4\\0.4\\1.3\\0.35\\0.35\\0.35\\1.4\\0.3\\0.3\\0.3\\0.3\\0.3\\0.3\\0.3\\1.7\\4.7\\}
\hmrow{48}{0.4\\0.4\\1.6\\1.6\\1.6\\0.35\\0.35\\0.35\\1.6\\1.6\\1.6\\1.6\\1.6\\0.4\\0.4\\0.4\\0.4\\1.6\\1.6\\1.6\\0.35\\1.6\\1.6\\0.35\\1.6\\0.35\\0.35\\1.6\\0.4\\0.4\\0.4\\0.4\\0.4\\0.4\\1.3\\0.35\\0.35\\0.35\\1.4\\0.3\\0.3\\0.3\\0.3\\0.3\\0.3\\0.3\\1.7\\2.6\\4.6\\}
\hmrow{49}{0.4\\0.4\\1.6\\1.6\\1.6\\0.35\\0.35\\0.35\\1.6\\1.6\\1.6\\1.6\\1.6\\0.4\\0.4\\0.4\\0.4\\1.6\\1.6\\1.6\\0.35\\1.6\\1.6\\0.35\\1.6\\0.35\\0.35\\1.6\\0.4\\0.4\\0.4\\0.4\\0.4\\0.4\\1.3\\0.35\\0.35\\0.35\\1.4\\0.3\\0.3\\0.3\\0.3\\0.3\\0.3\\0.3\\1.7\\2.6\\2.6\\4.2\\}
\addplot[sq,fill=black] coordinates {(2,50.16)(3,50.16)(4,50.16)(8,50.16)(9,50.16)(10,50.16)(11,50.16)(12,50.16)(17,50.16)(18,50.16)(19,50.16)(21,50.16)(22,50.16)(24,50.16)(27,50.16)(34,50.16)(38,50.16)(46,50.16)};
\addplot[sq,fill=white] coordinates {(0,50.16)(1,50.16)(5,50.16)(6,50.16)(7,50.16)(13,50.16)(14,50.16)(15,50.16)(16,50.16)(20,50.16)(23,50.16)(25,50.16)(26,50.16)(28,50.16)(29,50.16)(30,50.16)(31,50.16)(32,50.16)(33,50.16)(35,50.16)(36,50.16)(37,50.16)(39,50.16)(40,50.16)(41,50.16)(42,50.16)(43,50.16)(44,50.16)(45,50.16)(47,50.16)(48,50.16)(49,50.16)};
\addplot[cc,fill=cDR] coordinates {(0,51.29)};
\addplot[cc,fill=cR] coordinates {(1,51.29)};
\addplot[cc,fill=cO] coordinates {(2,51.29)};
\addplot[cc,fill=cY] coordinates {(3,51.29)(4,51.29)};
\addplot[cc,fill=cLG] coordinates {(5,51.29)(6,51.29)(7,51.29)};
\addplot[cc,fill=cG] coordinates {(8,51.29)(11,51.29)(15,51.29)(16,51.29)(19,51.29)};
\addplot[cc,fill=cLB] coordinates {(9,51.29)(12,51.29)(14,51.29)};
\addplot[cc,fill=cB] coordinates {(10,51.29)(13,51.29)(17,51.29)};
\addplot[cc,fill=cP] coordinates {(18,51.29)(45,51.29)};
\addplot[cc,fill=cOl] coordinates {(20,51.29)(46,51.29)};
\addplot[cc,fill=cBr] coordinates {(21,51.29)(22,51.29)(23,51.29)(24,51.29)(25,51.29)(26,51.29)(27,51.29)(28,51.29)(29,51.29)(30,51.29)};
\addplot[cc,fill=cSk] coordinates {(31,51.29)(32,51.29)(33,51.29)(34,51.29)(35,51.29)(36,51.29)};
\addplot[cc,fill=cPe] coordinates {(37,51.29)};
\addplot[cc,fill=cSl] coordinates {(38,51.29)(39,51.29)(40,51.29)(41,51.29)(42,51.29)(43,51.29)(44,51.29)};
\addplot[cc,fill=cOr] coordinates {(47,51.29)(48,51.29)(49,51.29)};
\addplot[lgsq,fill=black,draw=black] coordinates {(33.77,1.97)};
\addplot[lgsq,fill=white,draw=black!85,line width=1.5pt,mark size=10.6pt] coordinates {(33.84,5.94)};
\addplot[lgc,fill=cG] coordinates {(26.6,10.1)};
\addplot[lgc,fill=cLB] coordinates {(30.2,10.1)};
\addplot[lgc,fill=cB] coordinates {(33.87,10.1)};
\node[lab] at (axis cs:36.3,3.17) {Incorrect};
\node[lab] at (axis cs:36.3,7.15) {Correct};
\node[lab] at (axis cs:36.3,11.3) {Concepts};
\node[anchor=base,inner sep=0pt,font=\fontsize{22.5}{26}\selectfont] at (axis cs:28.29,58.2) {ASSISTments12-13};
\end{axis}
\end{tikzpicture}
\end{document}
